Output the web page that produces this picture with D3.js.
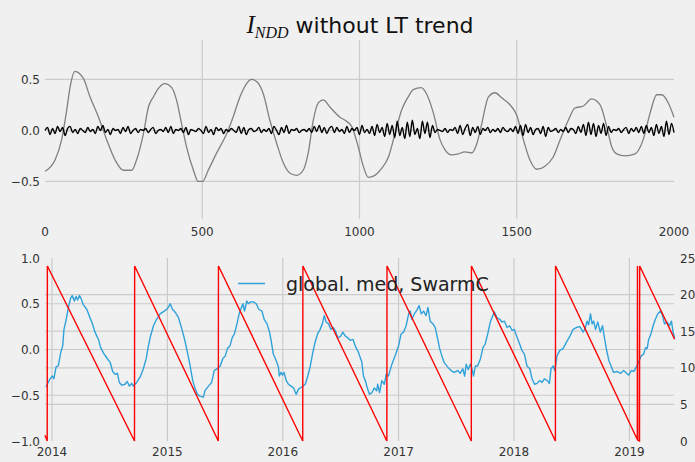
<!DOCTYPE html>
<html><head><meta charset="utf-8">
<script src="https://cdn.jsdelivr.net/npm/d3@7"></script>
<style>
body{margin:0;background:#f0f0f0}
svg{display:block}
text{font-family:"DejaVu Sans",sans-serif}
</style>
</head><body>
<svg id="chart" width="695" height="462"></svg>
<script>
// ---------- DATA ----------
// Top panel: smoothed series (gray) vs day index
const grayDays = [0,32,53,69,80,95,122,143,169,196,223,249,276,291,313,329,345,360,381,403,418,434,450,472,487,501,519,546,578,599,620,641,657,673,694,715,737,758,779,800,821,837,853,869,885,906,938,954,975,996,1012,1028,1049,1071,1092,1113,1134,1155,1171,1196,1213,1235,1256,1272,1293,1314,1335,1357,1373,1389,1410,1431,1452,1479,1500,1521,1542,1563,1590,1616,1638,1664,1685,1712,1738,1765,1786,1802,1818,1844,1876,1902,1924,1945,1961,1982,2000];
const grayValues = [-0.40,-0.29,-0.09,0.20,0.43,0.58,0.51,0.33,0.14,-0.09,-0.29,-0.39,-0.39,-0.29,-0.03,0.23,0.33,0.41,0.46,0.42,0.30,0.07,-0.16,-0.39,-0.50,-0.50,-0.39,-0.22,-0.03,0.14,0.33,0.46,0.50,0.48,0.36,0.10,-0.13,-0.32,-0.42,-0.44,-0.39,-0.22,0.10,0.27,0.30,0.23,0.13,0.10,0.04,-0.16,-0.35,-0.46,-0.44,-0.37,-0.26,-0.03,0.20,0.33,0.40,0.42,0.36,0.17,-0.09,-0.19,-0.24,-0.23,-0.21,-0.22,-0.13,0.07,0.33,0.37,0.32,0.25,0.15,-0.09,-0.29,-0.38,-0.35,-0.26,-0.09,0.10,0.22,0.24,0.31,0.25,0.04,-0.16,-0.23,-0.25,-0.23,-0.09,0.17,0.35,0.35,0.27,0.13];

// Top panel: high-frequency residual (black), one value every 8 days from day 0
const residualStep = 8;
const residualValues = [
0.00,0.03,-0.04,0.02,-0.03,0.04,-0.01,0.03,-0.05,0.02,0.04,-0.02,0.01,-0.03,0.02,0.00,-0.02,0.03,-0.01,0.01,-0.03,0.04,0.00,0.05,-0.02,0.01,-0.04,0.02,0.00,0.01,-0.03,0.03,-0.01,0.04,-0.03,0.00,0.02,-0.02,
0.01,0.00,0.02,-0.02,0.01,0.03,-0.03,0.00,0.01,-0.01,0.03,-0.02,0.04,-0.03,0.01,0.00,0.02,-0.02,0.03,-0.04,0.01,0.00,-0.01,0.02,0.00,-0.03,0.04,-0.02,0.01,-0.04,0.03,0.00,0.02,-0.03,0.01,-0.01,0.02,0.00,
-0.02,0.04,-0.03,0.03,-0.04,0.01,0.02,-0.01,0.00,0.03,-0.02,0.01,-0.01,0.02,-0.03,0.04,0.00,-0.04,0.03,-0.02,0.05,-0.03,0.01,0.00,0.02,-0.02,0.00,0.01,-0.01,0.02,-0.02,0.04,-0.01,0.05,-0.02,0.03,-0.03,0.02,
0.04,-0.02,0.03,-0.01,0.01,-0.03,0.04,-0.02,0.02,0.00,0.03,-0.04,0.05,-0.02,0.01,-0.03,0.04,-0.05,0.06,-0.02,0.03,-0.06,0.07,-0.04,0.05,-0.07,0.09,-0.05,0.03,-0.08,0.08,-0.06,0.10,-0.04,0.02,-0.08,0.09,-0.03,
0.08,-0.07,0.05,-0.02,0.01,0.00,-0.01,0.02,-0.02,0.01,0.00,0.03,-0.03,0.05,-0.04,0.02,0.06,-0.05,0.03,-0.02,0.04,-0.04,0.02,0.00,0.03,-0.02,0.01,-0.01,0.02,-0.02,0.03,0.00,-0.01,0.02,-0.01,0.04,-0.03,0.05,
-0.05,0.06,-0.02,0.03,-0.04,0.01,0.02,-0.03,0.04,-0.06,0.03,-0.01,0.00,0.02,-0.02,0.01,-0.01,0.03,-0.02,0.02,0.01,-0.03,0.04,-0.02,0.06,-0.05,0.08,-0.04,0.07,-0.06,0.05,-0.03,0.07,-0.05,0.04,-0.02,0.01,0.00,
0.02,-0.02,0.01,0.03,-0.03,0.02,-0.01,0.03,-0.02,0.04,-0.03,0.05,-0.02,0.03,-0.05,0.06,-0.03,0.04,-0.06,0.09,-0.04,0.07,-0.02];

// Bottom panel: global median, Swarm C (days since 2013-12-10)
const blueDays = [3,16,24,28,35,42,50,56,60,66,74,81,86,93,98,103,109,115,121,132,142,151,158,169,176,187,195,206,214,222,229,235,243,253,260,267,274,279,290,301,311,320,327,334,343,353,364,377,385,390,396,403,411,422,433,440,448,459,467,475,482,490,501,506,517,527,535,545,554,562,570,577,585,592,599,607,614,619,626,631,638,643,651,659,668,676,686,693,702,710,715,722,731,738,741,746,751,756,763,770,778,786,794,802,812,823,831,839,847,854,862,870,877,883,889,897,904,912,920,926,934,942,949,956,965,974,981,991,1002,1007,1013,1020,1026,1034,1041,1049,1052,1058,1065,1073,1079,1086,1097,1108,1118,1126,1134,1142,1150,1155,1160,1168,1176,1183,1190,1197,1205,1211,1218,1227,1234,1242,1248,1255,1262,1273,1284,1294,1305,1313,1321,1327,1332,1338,1345,1350,1355,1361,1368,1377,1385,1392,1400,1408,1416,1421,1429,1438,1445,1453,1461,1469,1477,1484,1493,1503,1508,1516,1524,1533,1540,1548,1556,1564,1572,1579,1588,1595,1600,1607,1612,1619,1628,1638,1649,1659,1670,1680,1691,1702,1709,1714,1719,1725,1730,1735,1741,1748,1756,1763,1769,1775,1783,1790,1798,1809,1820,1830,1839,1846,1854,1862,1870,1877,1885,1893,1899,1904,1909,1916,1923,1930,1938,1946,1951,1959,1967,1975,1981,1986,1991];
const blueValues = [-0.41,-0.32,-0.29,-0.32,-0.19,-0.18,-0.03,0.04,0.22,0.31,0.46,0.56,0.59,0.53,0.58,0.54,0.59,0.55,0.49,0.44,0.35,0.27,0.19,0.11,0.02,-0.05,-0.09,-0.14,-0.24,-0.27,-0.26,-0.36,-0.39,-0.38,-0.35,-0.40,-0.37,-0.40,-0.36,-0.30,-0.21,-0.10,0.04,0.15,0.26,0.33,0.39,0.42,0.44,0.46,0.50,0.44,0.41,0.35,0.22,0.13,0.01,-0.18,-0.34,-0.43,-0.49,-0.51,-0.52,-0.45,-0.40,-0.36,-0.23,-0.21,-0.18,-0.10,-0.07,0.01,0.04,0.13,0.17,0.28,0.39,0.44,0.50,0.42,0.53,0.50,0.52,0.52,0.50,0.44,0.42,0.33,0.28,0.19,0.10,-0.05,-0.12,-0.19,-0.29,-0.25,-0.28,-0.25,-0.34,-0.38,-0.40,-0.42,-0.49,-0.43,-0.41,-0.38,-0.29,-0.18,-0.03,0.08,0.17,0.22,0.28,0.37,0.30,0.28,0.22,0.24,0.19,0.13,0.14,0.19,0.15,0.13,0.10,0.11,0.04,-0.03,-0.14,-0.29,-0.34,-0.43,-0.49,-0.47,-0.42,-0.45,-0.38,-0.47,-0.34,-0.38,-0.27,-0.29,-0.16,-0.06,0.04,0.17,0.19,0.26,0.39,0.42,0.33,0.39,0.43,0.48,0.39,0.42,0.37,0.46,0.31,0.28,0.24,0.11,0.01,-0.07,-0.14,-0.19,-0.23,-0.25,-0.23,-0.26,-0.21,-0.29,-0.16,-0.22,-0.16,-0.21,-0.29,-0.18,-0.18,-0.10,0.02,0.06,0.17,0.30,0.37,0.41,0.35,0.33,0.30,0.31,0.24,0.26,0.21,0.22,0.13,0.04,-0.01,-0.05,-0.18,-0.21,-0.32,-0.38,-0.37,-0.34,-0.36,-0.32,-0.34,-0.37,-0.21,-0.18,-0.23,-0.07,-0.01,0.01,0.08,0.14,0.22,0.24,0.25,0.19,0.24,0.31,0.27,0.39,0.28,0.31,0.22,0.30,0.19,0.26,0.13,0.01,-0.12,-0.18,-0.25,-0.24,-0.26,-0.23,-0.26,-0.28,-0.23,-0.24,-0.19,-0.14,-0.07,-0.05,0.02,0.01,0.11,0.17,0.26,0.33,0.39,0.42,0.39,0.28,0.30,0.26,0.31,0.19,0.13];

// Bottom panel: local time of the satellite (right axis, hours)
const ltDays  = [0,7,7.5,283,283.5,548,548.5,815,815.5,1081,1081.5,1348,1348.5,1614,1614.5,1873,1873.5,1874.5,1880,1880.5,1991];
const ltHours = [0.8,0,23.9,0,23.9,0,23.9,0,23.9,0,23.9,0,23.9,0,23.9,0.2,23.9,0.1,0,23.9,13.9];

// Tick labels
const topXTicks = [0,500,1000,1500,2000];
const topYTicks = [-0.5,0.0,0.5];
const botYTicks = [-1.0,-0.5,0.0,0.5,1.0];
const rightTicks = [0,5,10,15,20,25];
const yearTicks = [2014,2015,2016,2017,2018,2019];
const legendLabel = "global. med, SwarmC";

// ---------- DRAW ----------
const svg = d3.select("#chart");
const W = 695, H = 462;
svg.append("rect").attr("width",W).attr("height",H).attr("fill","#f0f0f0");
const gridColor = "#cbcbcb", tickColor = "#333", fs = 12;
const fmt = v => (v<0?"\u2212":"") + Math.abs(v).toFixed(1);

// ===== Top panel =====
const xT = d3.scaleLinear().domain([0,2000]).range([45,674]);
const yT = d3.scaleLinear().domain([-0.868,0.887]).range([219,40]);
const topG = svg.append("g");
topG.selectAll(".vg").data(topXTicks.slice(1,4)).join("line")
  .attr("x1",d=>xT(d)).attr("x2",d=>xT(d)).attr("y1",40).attr("y2",219)
  .attr("stroke",gridColor).attr("stroke-width",1.2);
topG.selectAll(".hg").data(topYTicks).join("line")
  .attr("x1",45).attr("x2",674).attr("y1",d=>yT(d)).attr("y2",d=>yT(d))
  .attr("stroke",gridColor).attr("stroke-width",1.2);
topG.selectAll(".xl").data(topXTicks).join("text")
  .attr("x",d=>xT(d)).attr("y",236).attr("text-anchor","middle")
  .attr("font-size",fs).attr("fill",tickColor).text(d=>d);
topG.selectAll(".yl").data(topYTicks).join("text")
  .attr("x",40).attr("y",d=>yT(d)+4.5).attr("text-anchor","end")
  .attr("font-size",fs).attr("fill",tickColor).text(fmt);

topG.append("path").datum(grayDays.map((d,i)=>[d,grayValues[i]]))
  .attr("d",d3.line().x(d=>xT(d[0])).y(d=>yT(d[1])).curve(d3.curveMonotoneX))
  .attr("fill","none").attr("stroke","#808080").attr("stroke-width",1.3);
topG.append("path").datum(residualValues.map((v,i)=>[i*residualStep,v]))
  .attr("d",d3.line().x(d=>xT(d[0])).y(d=>yT(d[1])).curve(d3.curveMonotoneX)).attr("fill","none")
  .attr("stroke","#000").attr("stroke-width",1.4).attr("stroke-linejoin","round");

// Title
const title = svg.append("text").attr("x",360).attr("y",33).attr("text-anchor","middle")
  .attr("font-size",22).attr("fill","#111");
title.append("tspan").attr("font-family","'Liberation Serif',serif").attr("font-style","italic").attr("font-size",25).text("I");
title.append("tspan").attr("font-family","'Liberation Serif',serif").attr("font-style","italic").attr("font-size",16).attr("dy",5).text("NDD");
title.append("tspan").attr("dy",-5).text("\u00a0without LT trend");

// ===== Bottom panel =====
const base = new Date(Date.UTC(2013,11,10));
const dayToDate = d => new Date(base.getTime() + d*86400000);
const xB = d3.scaleUtc().domain([base, new Date(Date.UTC(2019,4,22))]).range([45,674]);
const yL = d3.scaleLinear().domain([-1,1]).range([441,258]);
const yR = d3.scaleLinear().domain([0,25]).range([441,258]);
const botG = svg.append("g");
const yearDates = yearTicks.map(y=>new Date(Date.UTC(y,0,1)));
botG.selectAll(".vg").data(yearDates).join("line")
  .attr("x1",d=>xB(d)).attr("x2",d=>xB(d)).attr("y1",258).attr("y2",441)
  .attr("stroke",gridColor).attr("stroke-width",1.2);
botG.selectAll(".hgl").data(botYTicks.slice(1,4)).join("line")
  .attr("x1",45).attr("x2",674).attr("y1",d=>yL(d)).attr("y2",d=>yL(d))
  .attr("stroke",gridColor).attr("stroke-width",1.2);
botG.selectAll(".hgr").data(rightTicks.slice(1,5)).join("line")
  .attr("x1",45).attr("x2",674).attr("y1",d=>yR(d)).attr("y2",d=>yR(d))
  .attr("stroke",gridColor).attr("stroke-width",1.2);
botG.selectAll(".xl").data(yearDates).join("text")
  .attr("x",d=>xB(d)).attr("y",456).attr("text-anchor","middle")
  .attr("font-size",fs).attr("fill",tickColor).text(d=>d.getUTCFullYear());
botG.selectAll(".yl").data(botYTicks).join("text")
  .attr("x",40).attr("y",d=>yL(d)+4.5).attr("text-anchor","end")
  .attr("font-size",fs).attr("fill",tickColor).text(fmt);
botG.selectAll(".yr").data(rightTicks).join("text")
  .attr("x",680).attr("y",d=>yR(d)+4.5).attr("text-anchor","start")
  .attr("font-size",fs).attr("fill",tickColor).text(d=>d);

botG.append("path").datum(blueDays.map((d,i)=>[dayToDate(d),blueValues[i]]))
  .attr("d",d3.line().x(d=>xB(d[0])).y(d=>yL(d[1]))).attr("fill","none")
  .attr("stroke","#30a2da").attr("stroke-width",1.4).attr("stroke-linejoin","round");
botG.append("path").datum(ltDays.map((d,i)=>[dayToDate(d),ltHours[i]]))
  .attr("d",d3.line().x(d=>xB(d[0])).y(d=>yR(d[1]))).attr("fill","none")
  .attr("stroke","#ff0000").attr("stroke-width",1.4);

// Legend
const lg = svg.append("g");
lg.append("line").attr("x1",238).attr("x2",265).attr("y1",283.5).attr("y2",283.5)
  .attr("stroke","#30a2da").attr("stroke-width",1.5);
lg.append("text").attr("x",286).attr("y",291).attr("font-size",19).attr("fill","#222").text(legendLabel);
</script>
</body></html>
